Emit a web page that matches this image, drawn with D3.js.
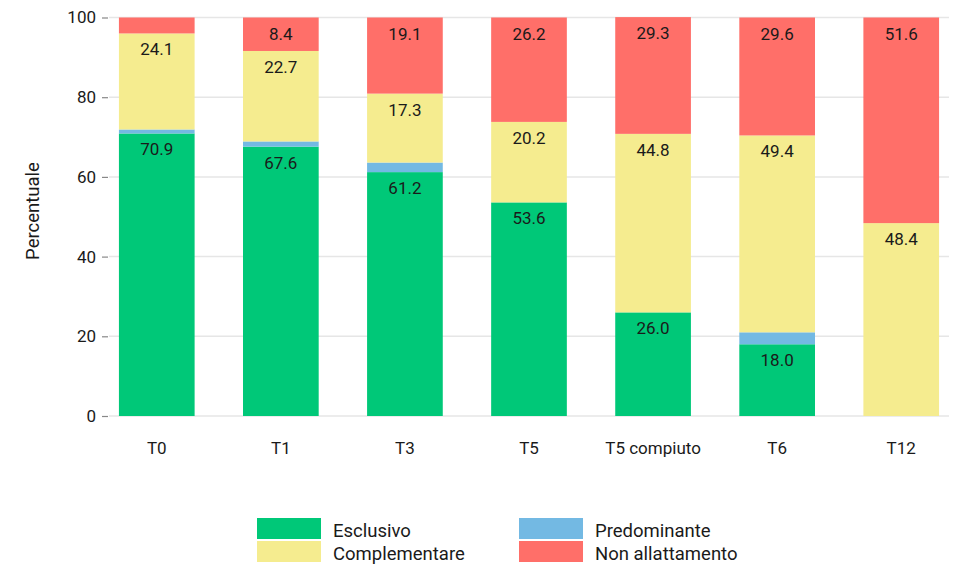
<!DOCTYPE html>
<html>
<head>
<meta charset="utf-8">
<script src="https://cdn.jsdelivr.net/npm/d3@7"></script>
<style>
  html, body { margin: 0; padding: 0; background: #fff; }
  svg { display: block; }
  text { font-family: "Roboto", "DejaVu Sans", sans-serif; fill: #1a1a1a; }
</style>
</head>
<body>
<svg id="chart" width="955" height="567"></svg>
<script>
// Tipologia di allattamento per tempo di rilevazione (percentuali)
const categories = ["T0", "T1", "T3", "T5", "T5 compiuto", "T6", "T12"];
const esclusivo       = [70.9, 67.6, 61.2, 53.6, 26.0, 18.0, 0];
const predominante    = [1.0, 1.3, 2.4, 0, 0, 3.0, 0];
const complementare   = [24.1, 22.7, 17.3, 20.2, 44.8, 49.4, 48.4];
const nonAllattamento = [4.0, 8.4, 19.1, 26.2, 29.3, 29.6, 51.6];
const yTicks = [0, 20, 40, 60, 80, 100];

const seriesKeys = ["Esclusivo", "Predominante", "Complementare", "Non allattamento"];
const seriesValues = [esclusivo, predominante, complementare, nonAllattamento];
const colors = ["#00c878", "#73b9e3", "#f5ec8f", "#ff6f69"];

const rows = categories.map((c, i) => {
  const r = { cat: c };
  seriesKeys.forEach((k, j) => { r[k] = seriesValues[j][i]; });
  return r;
});

const svg = d3.select("#chart");
const x = d3.scaleBand().domain(categories).range([109, 949]).paddingInner(0.39).paddingOuter(0.08);
const y = d3.scaleLinear().domain([0, 100]).range([416, 17.5]);
const color = d3.scaleOrdinal().domain(seriesKeys).range(colors);

// griglia orizzontale
svg.append("g").selectAll("line").data(yTicks).join("line")
  .attr("x1", 109).attr("x2", 949)
  .attr("y1", d => y(d)).attr("y2", d => y(d))
  .attr("stroke", "#e6e6e6").attr("stroke-width", 1.5);

// asse y
const yAxis = svg.append("g").attr("transform", "translate(108,0)")
  .call(d3.axisLeft(y).tickValues(yTicks).tickSize(6).tickPadding(6));
yAxis.select(".domain").remove();
yAxis.selectAll(".tick line").attr("stroke", "#888").attr("stroke-width", 1.2);
yAxis.selectAll(".tick text").style("font-size", "17px").attr("fill", "#1a1a1a");

// asse x
const xAxis = svg.append("g").attr("transform", "translate(0,416)")
  .call(d3.axisBottom(x).tickSize(0).tickPadding(26));
xAxis.select(".domain").remove();
xAxis.selectAll(".tick text").style("font-size", "17px").attr("fill", "#1a1a1a");

// titolo asse y
svg.append("text")
  .attr("transform", "translate(39,211) rotate(-90)")
  .attr("text-anchor", "middle")
  .style("font-size", "18.5px")
  .text("Percentuale");

// barre impilate
const stacked = d3.stack().keys(seriesKeys)(rows);
const layers = svg.append("g").selectAll("g").data(stacked).join("g")
  .attr("fill", d => color(d.key));
layers.selectAll("rect").data(d => d).join("rect")
  .attr("x", d => x(d.data.cat))
  .attr("width", x.bandwidth())
  .attr("y", d => y(d[1]))
  .attr("height", d => y(d[0]) - y(d[1]));

// etichette dei valori
const labelled = ["Esclusivo", "Complementare", "Non allattamento"];
const labels = [];
stacked.forEach(layer => {
  if (!labelled.includes(layer.key)) return;
  layer.forEach(d => {
    const v = d.data[layer.key];
    if (v >= 8) labels.push({ cat: d.data.cat, top: d[1], v });
  });
});
svg.append("g").selectAll("text").data(labels).join("text")
  .attr("x", d => x(d.cat) + x.bandwidth() / 2)
  .attr("y", d => y(d.top) + 22)
  .attr("text-anchor", "middle")
  .style("font-size", "17px")
  .text(d => d3.format(".1f")(d.v));

// legenda
const legendItems = [
  { key: "Esclusivo", x: 257, y: 518 },
  { key: "Complementare", x: 257, y: 541 },
  { key: "Predominante", x: 519, y: 518 },
  { key: "Non allattamento", x: 519, y: 541 }
];
const lg = svg.append("g").selectAll("g").data(legendItems).join("g")
  .attr("transform", d => `translate(${d.x},${d.y})`);
lg.append("rect").attr("width", 64).attr("height", 21).attr("fill", d => color(d.key));
lg.append("text").attr("x", 76).attr("y", 19).style("font-size", "18.5px").text(d => d.key);
</script>
</body>
</html>
